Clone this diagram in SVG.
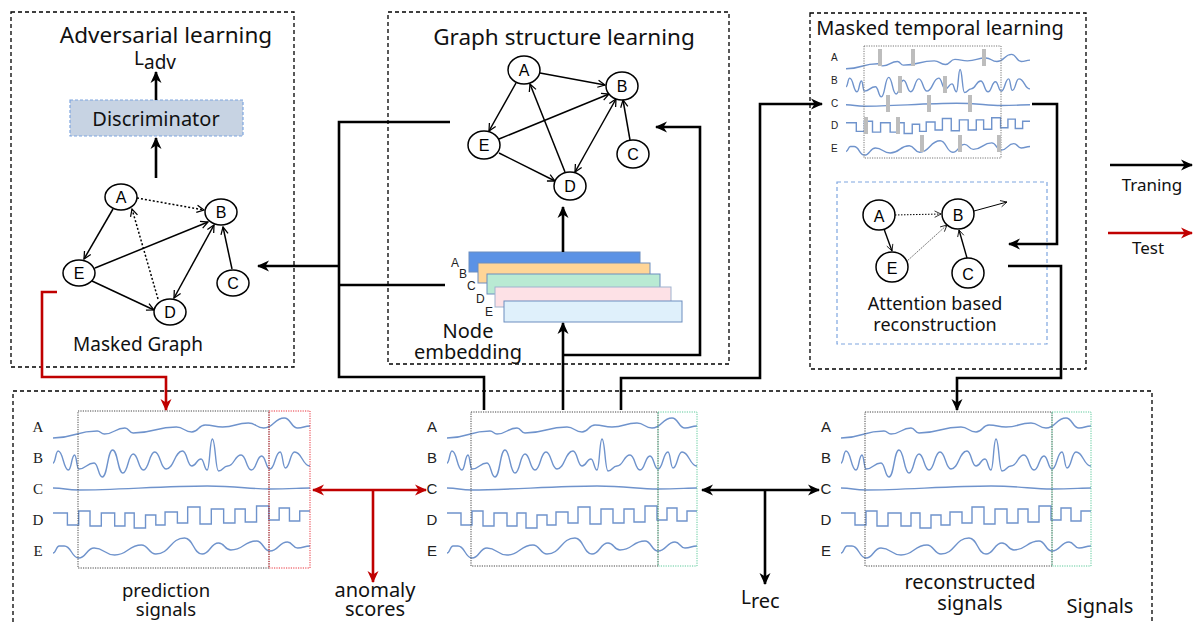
<svg xmlns="http://www.w3.org/2000/svg" xmlns:xlink="http://www.w3.org/1999/xlink" width="1195" height="622" viewBox="0 0 1195 622">
<style>
.box{fill:none;stroke:#000;stroke-width:1.3;stroke-dasharray:4,3}
.t{font-family:"Noto Sans","Open Sans",sans-serif;fill:#111}
.lbl{font-family:"Liberation Sans",Arial,sans-serif;fill:#222}
.ser{font-family:"Liberation Serif","Times New Roman",serif;fill:#222}
.node{fill:#fff;stroke:#000;stroke-width:1.5}
.nl{font-family:"Liberation Sans",Arial,sans-serif;font-size:16px;text-anchor:middle;fill:#000}
.e{fill:none;stroke:#000;stroke-width:1.5;marker-end:url(#open)}
.ed{fill:none;stroke:#000;stroke-width:1.5;stroke-dasharray:2,2;marker-end:url(#open)}
.conn{fill:none;stroke:#000;stroke-width:2.6}
.red{fill:none;stroke:#c00000;stroke-width:2.6}
.wave{fill:none;stroke:#6f93cc;stroke-width:1.4;vector-effect:non-scaling-stroke}
.dotk{fill:none;stroke:#444;stroke-width:1;stroke-dasharray:1.2,1.2}
.dotr{fill:none;stroke:#e8303a;stroke-width:1;stroke-dasharray:1.2,1.2}
.dotg{fill:none;stroke:#5cc99a;stroke-width:1;stroke-dasharray:1.2,1.2}
.bar{fill:#bdbdbd}
</style>
<defs>
<marker id="ah" viewBox="0 0 12 12" refX="11" refY="6" markerWidth="12" markerHeight="12" markerUnits="userSpaceOnUse" orient="auto-start-reverse"><path d="M0,0.5 L12,6 L0,11.5 L3.5,6 z" fill="#000"/></marker>
<marker id="ahr" viewBox="0 0 12 12" refX="11" refY="6" markerWidth="12" markerHeight="12" markerUnits="userSpaceOnUse" orient="auto-start-reverse"><path d="M0,0.5 L12,6 L0,11.5 L3.5,6 z" fill="#c00000"/></marker>
<marker id="open" viewBox="0 0 10 10" refX="9" refY="5" markerWidth="9" markerHeight="9" markerUnits="userSpaceOnUse" orient="auto-start-reverse"><path d="M1,1 L9,5 L1,9" fill="none" stroke="#000" stroke-width="1.4"/></marker>
<marker id="opens" viewBox="0 0 10 10" refX="9" refY="5" markerWidth="8" markerHeight="8" markerUnits="userSpaceOnUse" orient="auto"><path d="M1,1 L9,5 L1,9" fill="none" stroke="#000" stroke-width="1"/></marker>
<g id="waves">
<path class="wave" d="M0,438 C21.5,438 21.5,431 43,431 C46.5,431 46.5,434 50,434 C60,434 60,428 70,428 C74,428 74,433 78,433 C99,433 99,427 120,427 C127.5,427 127.5,432 135,432 C141.5,432 141.5,425 148,425 C156.5,425 156.5,427 165,427 C177.5,427 177.5,423 190,423 C197.5,423 197.5,428 205,428 C215,428 215,418 225,418 C231.5,418 231.5,428 238,428 C244,428 244,426 250,426"/>
<path class="wave" d="M0,463 C2.5,463 2.5,451 5,451 C10,451 10,470 15,470 C18,470 18,455 21,455 C23,455 23,469 25,469 C32.5,469 32.5,463 40,463 C44,463 44,477 48,477 C53,477 53,450 58,450 C63,450 63,473 68,473 C73,473 73,454 78,454 C83,454 83,470 88,470 C93.5,470 93.5,452 99,452 C104.5,452 104.5,469 110,469 C118,469 118,451 126,451 C130.5,451 130.5,466 135,466 C139.5,466 139.5,459 144,459 C147,459 147,470 150,470 C152.5,470 152.5,439 155,439 C158,439 158,471 161,471 C165.5,471 165.5,466 170,466 C176.5,466 176.5,455 183,455 C188,455 188,470 193,470 C198,470 198,456 203,456 C207,456 207,469 211,469 C216,469 216,452 221,452 C223.5,452 223.5,468 226,468 C230.5,468 230.5,452 235,452 C242.5,452 242.5,466 250,466"/>
<path class="wave" d="M0,488 C12,488 12,490 25,490 C60,490 110,486 150,486 C180,486 190,489 211,489 C230,489 240,488 250,488"/>
<path class="wave" d="M0,513 H14 V525 H25 V511 H36 V526 H47 V513 H60 V526 H70 V513 H79 V528 H90 V515 H100 V525 H109 V512 H121 V523 H131 V507 H143 V524 H154 V509 H166 V523 H177 V509 H187 V522 H198 V506 H210 V520 H220 V508 H230 V521 H240 V511 H250"/>
<path class="wave" d="M0,553 C3,553 3,546 6,546 L11,546 C18,546 18,558 25,558 C32.5,558 32.5,548 40,548 C50,548 50,555 60,555 C73,555 73,545 86,545 C93,545 93,554 100,554 C114,554 114,538 128,538 C136.5,538 136.5,554 145,554 C153,554 153,543 161,543 C167,543 167,550 173,550 C185.5,550 185.5,541 198,541 C204.5,541 204.5,551 211,551 C219.5,551 219.5,542 228,542 C233,542 233,548 238,548 C244,548 244,546 250,546"/>
</g>
</defs>
<rect width="1195" height="622" fill="#fff"/>

<!-- outer dashed boxes -->
<rect class="box" x="11" y="12" width="283" height="355"/>
<rect class="box" x="388" y="12" width="341" height="352"/>
<rect class="box" x="810" y="13" width="276" height="356"/>
<rect class="box" x="13" y="391" width="1139" height="240"/>

<!-- Adversarial learning -->
<g id="adversarial">
<text class="t" x="166" y="43" font-size="22.5" text-anchor="middle">Adversarial learning</text>
<text class="t" x="134" y="65" font-size="19">L<tspan font-size="19" dy="4">adv</tspan></text>
<rect x="70" y="100" width="173" height="36" fill="#c7d3e3" stroke="#7ea6e0" stroke-width="1.2" stroke-dasharray="3,2"/>
<text class="t" x="156" y="126" font-size="20" text-anchor="middle">Discriminator</text>
<text class="t" x="138" y="351" font-size="19" text-anchor="middle">Masked Graph</text>
</g>
<g id="masked-graph">
<path class="e" d="M113,209 L84,259"/>
<path class="ed" d="M137,198 L204,210"/>
<path class="ed" d="M158,299 L132,209"/>
<path class="e" d="M95,268 L208,222"/>
<path class="e" d="M214,225 L174,298" style="marker-start:url(#open)"/>
<path class="e" d="M92,281 L154,310"/>
<path class="e" d="M232,269 L223,227"/>
<g id="mg-A"><ellipse class="node" cx="121" cy="197" rx="16" ry="13"/><text class="nl" x="121" y="203">A</text></g>
<g id="mg-B"><ellipse class="node" cx="221" cy="212" rx="16" ry="13"/><text class="nl" x="221" y="218">B</text></g>
<g id="mg-E"><ellipse class="node" cx="79" cy="273" rx="16" ry="13"/><text class="nl" x="79" y="279">E</text></g>
<g id="mg-C"><ellipse class="node" cx="233" cy="283" rx="16" ry="13"/><text class="nl" x="233" y="289">C</text></g>
<g id="mg-D"><ellipse class="node" cx="170" cy="312" rx="16" ry="13"/><text class="nl" x="170" y="318">D</text></g>
</g>

<!-- Graph structure learning -->
<g id="graph-structure">
<text class="t" x="564" y="45" font-size="22.5" text-anchor="middle">Graph structure learning</text>
<path class="e" d="M540,73 L605,85"/>
<path class="e" d="M516,83 L489,131"/>
<path class="e" d="M499,139 L609,94"/>
<path class="e" d="M499,153 L555,181"/>
<path class="e" d="M565,172 L530,84"/>
<path class="e" d="M616,99 L575,172" style="marker-start:url(#open)"/>
<path class="e" d="M630,140 L623,100"/>
<g id="gs-A"><ellipse class="node" cx="524" cy="70" rx="16" ry="14"/><text class="nl" x="524" y="76">A</text></g>
<g id="gs-B"><ellipse class="node" cx="622" cy="86" rx="16" ry="14"/><text class="nl" x="622" y="92">B</text></g>
<g id="gs-E"><ellipse class="node" cx="484" cy="145" rx="16" ry="14"/><text class="nl" x="484" y="151">E</text></g>
<g id="gs-C"><ellipse class="node" cx="633" cy="154" rx="16" ry="14"/><text class="nl" x="633" y="160">C</text></g>
<g id="gs-D"><ellipse class="node" cx="570" cy="186" rx="16" ry="14"/><text class="nl" x="570" y="192">D</text></g>
</g>

<!-- Node embedding -->
<g id="node-embedding">
<rect x="469" y="252" width="171" height="20" fill="#5b92e5" stroke="#6c8ebf"/>
<rect x="478" y="263" width="172" height="20" fill="#ffd597" stroke="#6c8ebf"/>
<rect x="487" y="274" width="173" height="20" fill="#b9ead3" stroke="#6c8ebf"/>
<rect x="495" y="287" width="176" height="20" fill="#fde1e6" stroke="#9fb3cf"/>
<rect x="504" y="301" width="178" height="21" fill="#dff0fb" stroke="#6c8ebf"/>
<text class="lbl" x="451" y="267" font-size="12">A</text>
<text class="lbl" x="459" y="278" font-size="12">B</text>
<text class="lbl" x="467" y="290" font-size="12">C</text>
<text class="lbl" x="476" y="303" font-size="12">D</text>
<text class="lbl" x="485" y="316" font-size="12">E</text>
<text class="t" x="468" y="338" font-size="20" text-anchor="middle">Node</text>
<text class="t" x="468" y="359" font-size="20" text-anchor="middle">embedding</text>
</g>

<!-- Masked temporal learning -->
<g id="masked-temporal">
<text class="t" x="940" y="35" font-size="20" text-anchor="middle">Masked temporal learning</text>
<text class="lbl" x="831" y="61" font-size="10">A</text>
<text class="lbl" x="831" y="84" font-size="10">B</text>
<text class="lbl" x="831" y="107" font-size="10">C</text>
<text class="lbl" x="831" y="129" font-size="10">D</text>
<text class="lbl" x="831" y="152" font-size="10">E</text>
<use xlink:href="#waves" href="#waves" transform="translate(846,-246.6) scale(0.736,0.72)"/>
<rect class="dotk" x="864" y="46" width="137" height="112" style="stroke:#777"/>
<rect class="bar" x="878" y="49" width="4" height="17"/>
<rect class="bar" x="911" y="49" width="4" height="17"/>
<rect class="bar" x="982" y="49" width="4" height="17"/>
<rect class="bar" x="898" y="76" width="4" height="17"/>
<rect class="bar" x="943" y="76" width="4" height="17"/>
<rect class="bar" x="886" y="95" width="4" height="17"/>
<rect class="bar" x="927" y="95" width="4" height="17"/>
<rect class="bar" x="968" y="95" width="4" height="17"/>
<rect class="bar" x="864" y="117" width="4" height="17"/>
<rect class="bar" x="896" y="117" width="4" height="17"/>
<rect class="bar" x="920" y="135" width="4" height="17"/>
<rect class="bar" x="958" y="135" width="4" height="17"/>
<rect class="bar" x="997" y="135" width="4" height="17"/>
</g>

<g id="attention">
<rect x="837" y="182" width="210" height="162" fill="none" stroke="#7ea6e0" stroke-width="1.2" stroke-dasharray="4,3"/>
<path d="M895,215 L941,214" fill="none" stroke="#000" stroke-width="1" stroke-dasharray="1.5,1.5" marker-end="url(#opens)"/>
<path d="M884,229 L892,251" fill="none" stroke="#000" stroke-width="1.4" marker-end="url(#opens)"/>
<path d="M906,262 L947,225" fill="none" stroke="#555" stroke-width="0.9" stroke-dasharray="1.5,1" marker-end="url(#opens)"/>
<path d="M967,258 L959,230" fill="none" stroke="#000" stroke-width="1.4" marker-end="url(#opens)"/>
<path d="M974,211 L1007,202" fill="none" stroke="#000" stroke-width="1" marker-end="url(#opens)"/>
<g id="at-A"><ellipse class="node" cx="879" cy="215" rx="16" ry="15"/><text class="nl" x="879" y="222" font-size="18">A</text></g>
<g id="at-B"><ellipse class="node" cx="958" cy="214" rx="16" ry="15"/><text class="nl" x="958" y="221" font-size="18">B</text></g>
<g id="at-E"><ellipse class="node" cx="892" cy="267" rx="16" ry="15"/><text class="nl" x="892" y="274" font-size="18">E</text></g>
<g id="at-C"><ellipse class="node" cx="968" cy="273" rx="16" ry="15"/><text class="nl" x="968" y="280" font-size="18">C</text></g>
<text class="t" x="935" y="310" font-size="18" text-anchor="middle">Attention based</text>
<text class="t" x="935" y="331" font-size="18" text-anchor="middle">reconstruction</text>
</g>

<!-- Legend -->
<g id="legend">
<path class="conn" d="M1110,165 H1192" marker-end="url(#ah)"/>
<text class="t" x="1152" y="191" font-size="17" text-anchor="middle">Traning</text>
<path class="red" d="M1108,233 H1192" marker-end="url(#ahr)"/>
<text class="t" x="1148" y="254" font-size="17" text-anchor="middle">Test</text>
</g>

<!-- Prediction signals panel -->
<g id="prediction-signals">
<text class="ser" x="38" y="432" font-size="15" text-anchor="middle">A</text>
<text class="ser" x="38" y="463" font-size="15" text-anchor="middle">B</text>
<text class="ser" x="38" y="494" font-size="15" text-anchor="middle">C</text>
<text class="ser" x="38" y="525" font-size="15" text-anchor="middle">D</text>
<text class="ser" x="38" y="556" font-size="15" text-anchor="middle">E</text>
<use xlink:href="#waves" href="#waves" transform="translate(53,0) scale(1.028,1)"/>
<rect class="dotk" x="78" y="411" width="191" height="157"/>
<rect class="dotr" x="269" y="411" width="41" height="157"/>
<text class="t" x="166" y="597" font-size="18.5" text-anchor="middle">prediction</text>
<text class="t" x="166" y="616" font-size="18.5" text-anchor="middle">signals</text>
</g>

<!-- Input signals panel -->
<g id="input-signals">
<text class="lbl" x="432" y="432" font-size="15" text-anchor="middle">A</text>
<text class="lbl" x="432" y="463" font-size="15" text-anchor="middle">B</text>
<text class="lbl" x="432" y="494" font-size="15" text-anchor="middle">C</text>
<text class="lbl" x="432" y="525" font-size="15" text-anchor="middle">D</text>
<text class="lbl" x="432" y="556" font-size="15" text-anchor="middle">E</text>
<use xlink:href="#waves" href="#waves" transform="translate(447,0)"/>
<rect class="dotk" x="471" y="412" width="187" height="154"/>
<rect class="dotg" x="658" y="412" width="39" height="154"/>
</g>

<!-- Reconstructed signals panel -->
<g id="reconstructed-signals">
<text class="lbl" x="826" y="432" font-size="15" text-anchor="middle">A</text>
<text class="lbl" x="826" y="463" font-size="15" text-anchor="middle">B</text>
<text class="lbl" x="826" y="494" font-size="15" text-anchor="middle">C</text>
<text class="lbl" x="826" y="525" font-size="15" text-anchor="middle">D</text>
<text class="lbl" x="826" y="556" font-size="15" text-anchor="middle">E</text>
<use xlink:href="#waves" href="#waves" transform="translate(841,0)"/>
<rect class="dotk" x="865" y="412" width="187" height="154"/>
<rect class="dotg" x="1052" y="412" width="39" height="154"/>
<text class="t" x="970" y="589" font-size="20" text-anchor="middle">reconstructed</text>
<text class="t" x="970" y="610" font-size="20" text-anchor="middle">signals</text>
<text class="t" x="1100" y="613" font-size="20" text-anchor="middle">Signals</text>
</g>

<g id="scores">
<text class="t" x="375" y="597" font-size="20" text-anchor="middle">anomaly</text>
<text class="t" x="375" y="616" font-size="20" text-anchor="middle">scores</text>
<text class="t" x="741" y="604" font-size="19">L<tspan font-size="20" dy="4">rec</tspan></text>
</g>

<!-- Connectors -->
<g id="connectors">
<path class="conn" d="M156,100 V72" marker-end="url(#ah)"/>
<path class="conn" d="M156,178 V138" marker-end="url(#ah)"/>
<path class="conn" d="M484,410 V377 H339 V122 H450"/>
<path class="conn" d="M339,285 H445"/>
<path class="conn" d="M339,266 H258" marker-end="url(#ah)"/>
<path class="conn" d="M563,410 V323" marker-end="url(#ah)"/>
<path class="conn" d="M563,355 H700 V127 H656" marker-end="url(#ah)"/>
<path class="conn" d="M563,252 V207" marker-end="url(#ah)"/>
<path class="conn" d="M621,410 V378 H760 V104 H822" marker-end="url(#ah)"/>
<path class="conn" d="M1032,104 H1057 V244 H1009" marker-end="url(#ah)"/>
<path class="conn" d="M1008,266 H1061 V378 H957 V410" marker-end="url(#ah)"/>
<path class="red" d="M57,292 H42 V377 H166 V410" marker-end="url(#ahr)"/>
<path class="red" d="M313,490 H426" marker-start="url(#ahr)" marker-end="url(#ahr)"/>
<path class="red" d="M373,490 V582" marker-end="url(#ahr)"/>
<path class="conn" d="M702,490 H819" marker-start="url(#ah)" marker-end="url(#ah)"/>
<path class="conn" d="M765,490 V584" marker-end="url(#ah)"/>
</g>
</svg>
